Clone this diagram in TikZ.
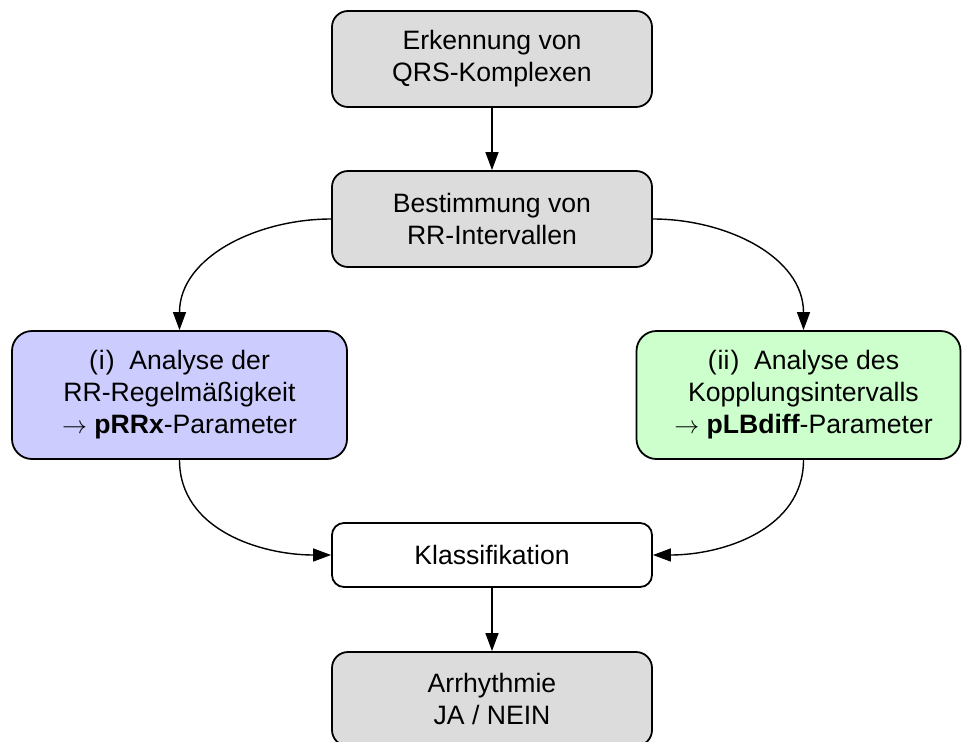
\documentclass[tikz,border=0pt]{standalone}
\usepackage{fontspec}
\setmainfont{Liberation Sans}
\usetikzlibrary{arrows.meta}
\definecolor{boxgray}{HTML}{DCDCDC}
\definecolor{boxblue}{HTML}{CCCCFF}
\definecolor{boxgreen}{HTML}{CCFFCC}
\newcommand{\rsh}{\hspace*{10pt}}
\begin{document}
\begin{tikzpicture}[x=1pt,y=1pt,
  box/.style={draw=black, line width=1.8pt, rounded corners=16pt, align=center,
    inner sep=0pt, font=\fontsize{26.6}{32}\selectfont},
  arr/.style={line width=1.4pt, -{Triangle[length=18pt,width=13pt]}}]
\useasboundingbox (0,0) rectangle (962,-742);
\node[box, fill=boxgray, minimum width=320, minimum height=96] (qrs) at (492,-59) {Erkennung von\\QRS-Komplexen};
\node[box, fill=boxgray, minimum width=320, minimum height=96] (rr) at (492,-219) {Bestimmung von\\RR-Intervallen};
\node[box, fill=boxblue, minimum width=335, minimum height=128, rounded corners=20pt] (left) at (179.5,-395) {(\kern1pt i\kern1pt)\ \ Analyse der\\RR-Regelmäßigkeit\\$\rightarrow$ \textbf{pRRx}-Parameter};
\node[box, fill=boxgreen, minimum width=324, minimum height=128, rounded corners=20pt] (right) at (798.5,-395) {\rsh(\kern1pt ii\kern1pt)\ \ Analyse des\\\rsh Kopplungsintervalls\\\rsh$\rightarrow$ \textbf{pLBdiff}-Parameter};
\node[box, fill=white, minimum width=320, minimum height=64, rounded corners=12pt] (kl) at (492,-555) {Klassifikation};
\node[box, fill=boxgray, minimum width=320, minimum height=94] (out) at (492,-699) {Arrhythmie\\JA / NEIN};
\draw[arr] (qrs.south) -- (rr.north);
\draw[arr] (rr.west) to[out=180,in=90] (left.north);
\draw[arr] (rr.east) to[out=0,in=90] ([xshift=5pt]right.north);
\draw[arr] (left.south) to[out=-90,in=180] (kl.west);
\draw[arr] ([xshift=5pt]right.south) to[out=-90,in=0] (kl.east);
\draw[arr] (kl.south) -- (out.north);
\end{tikzpicture}
\end{document}
